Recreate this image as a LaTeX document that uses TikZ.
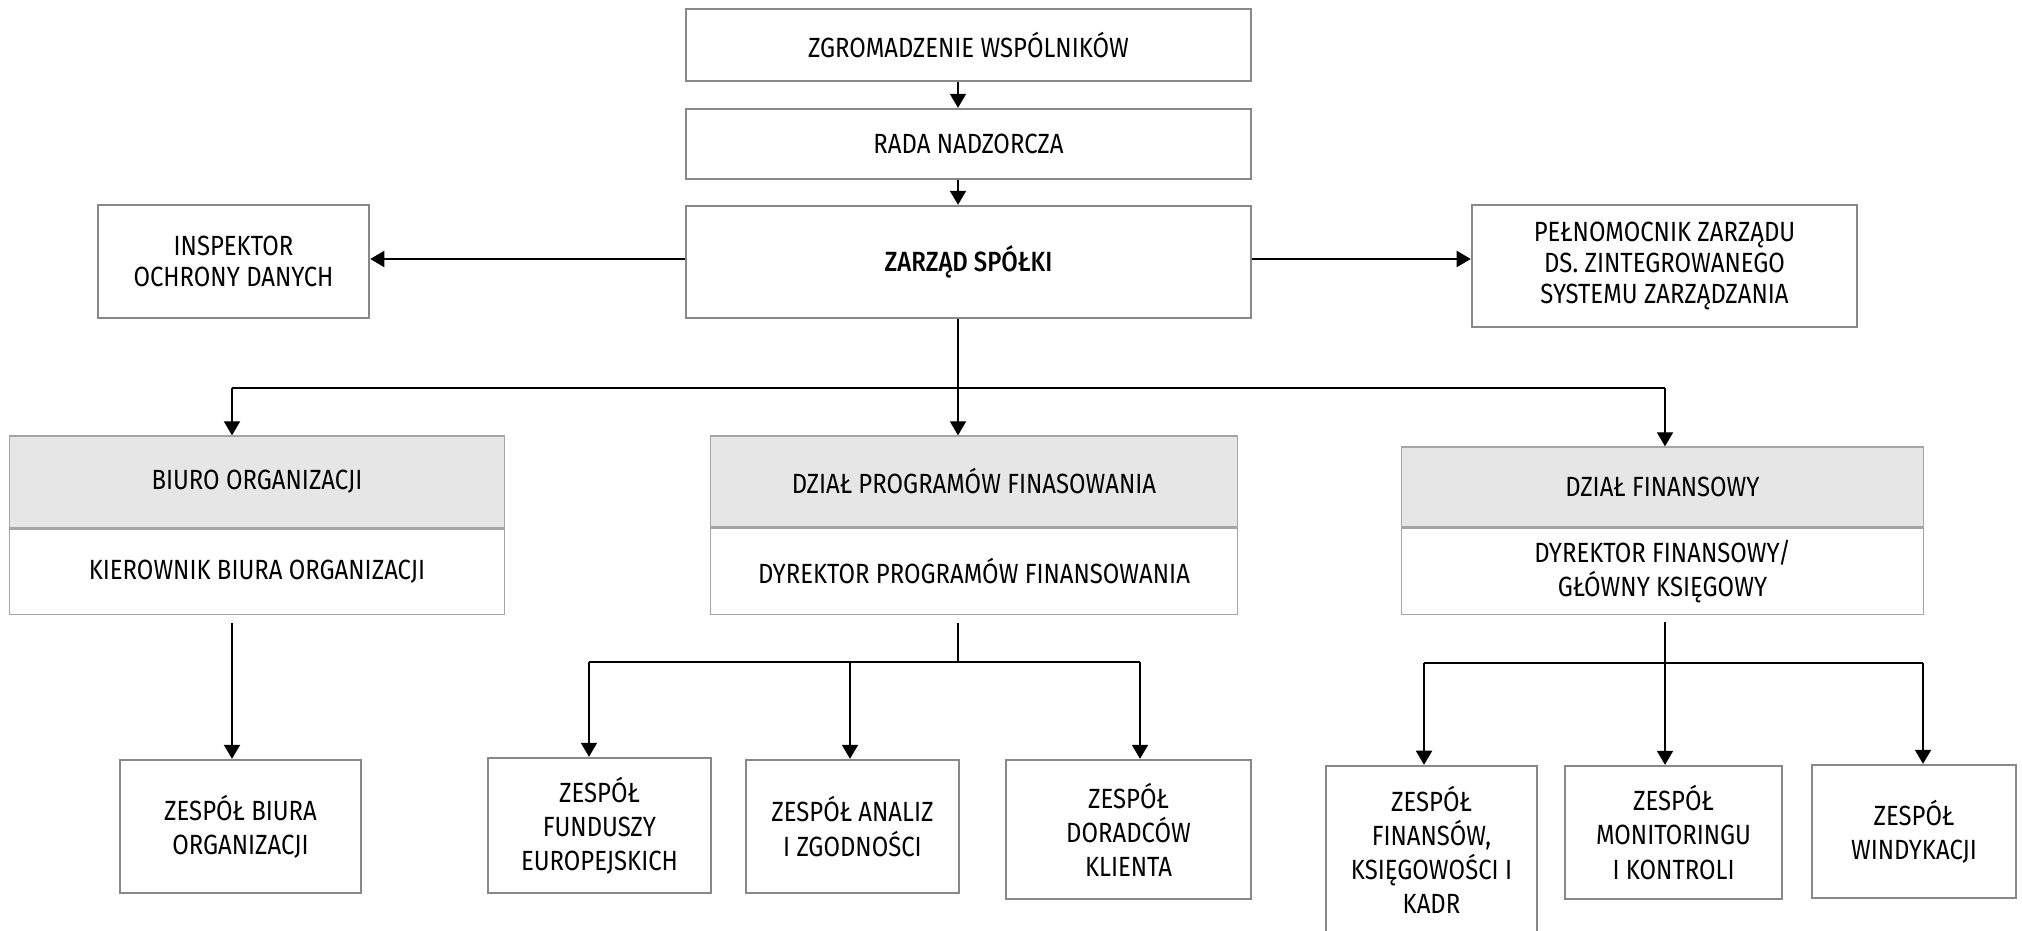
\documentclass[tikz,border=0pt]{standalone}
\usepackage{fontspec}
\setmainfont{Fira Sans}[FakeStretch=0.86]
\newfontfamily\polgruby{Fira Sans Medium}[FakeStretch=0.86]
\usetikzlibrary{arrows.meta}

\definecolor{ramka}{RGB}{136,136,136}
\definecolor{ramkaj}{RGB}{165,165,165}
\definecolor{naglowek}{RGB}{230,230,230}

\tikzset{
  blok/.style={draw=ramka, line width=0.65pt, align=center, inner sep=0pt,
    font=\fontsize{7.9}{9.7}\selectfont},
  blokg/.style={blok, font=\fontsize{7.9}{8.8}\selectfont},
  dzial/.style={draw=ramkaj, line width=0.35pt, fill=naglowek, align=center, inner sep=0pt,
    font=\fontsize{7.9}{9.7}\selectfont},
  kier/.style={dzial, fill=white},
  strz/.style={line width=0.4pt, -{Triangle[width=4.6pt,length=4pt]}},
  linia/.style={line width=0.4pt}
}

\begin{document}
\begin{tikzpicture}[x=0.01cm, y=-0.01cm]
            \useasboundingbox (0,0) rectangle (2022,931);
            % gora
            \node[blokg, minimum width=5.65cm, minimum height=0.72cm] (zgrom) at (968.5,45) {ZGROMADZENIE WSPÓLNIKÓW};
            \node[blokg, minimum width=5.65cm, minimum height=0.70cm] (rada) at (968.5,144) {RADA NADZORCZA};
            \node[blokg, minimum width=5.65cm, minimum height=1.12cm] (zarzad) at (968.5,262) {\polgruby ZARZĄD SPÓŁKI};
            \node[blokg, minimum width=2.71cm, minimum height=1.13cm] (insp) at (233.5,261.5) {INSPEKTOR\\OCHRONY DANYCH};
            \node[blokg, minimum width=3.85cm, minimum height=1.22cm] (pelnom) at (1664.5,266) {PEŁNOMOCNIK ZARZĄDU\\DS. ZINTEGROWANEGO\\SYSTEMU ZARZĄDZANIA};
            \coordinate (pion) at (958,388);
            \coordinate (busL) at (232,388);
            \coordinate (busR) at (1665,388);
            \draw[strz] (zgrom.south -| pion) -- (rada.north -| pion);
            \draw[strz] (rada.south -| pion) -- (zarzad.north -| pion);
            \draw[strz] (zarzad.west |- 0,259) -- (insp.east |- 0,259);
            \draw[strz] (zarzad.east |- 0,259) -- (pelnom.west |- 0,259);
            % dzialy
            \node[dzial, minimum width=4.94cm, minimum height=0.92cm] (biuro) at (257,482) {BIURO ORGANIZACJI};
            \node[kier, minimum width=4.94cm, minimum height=0.85cm, anchor=north] (biuroK) at (biuro.south) {KIEROWNIK BIURA ORGANIZACJI};
            \node[dzial, minimum width=5.26cm, minimum height=0.91cm] (prog) at (974,481.5) {DZIAŁ PROGRAMÓW FINASOWANIA};
            \node[kier, minimum width=5.26cm, minimum height=0.86cm, anchor=north] (progK) at (prog.south) {DYREKTOR PROGRAMÓW FINANSOWANIA};
            \node[dzial, minimum width=5.21cm, minimum height=0.80cm] (fin) at (1662.5,487) {DZIAŁ FINANSOWY};
            \node[kier, minimum width=5.21cm, minimum height=0.86cm, anchor=north] (finK) at (fin.south) {DYREKTOR FINANSOWY/\\GŁÓWNY KSIĘGOWY};
            \draw[linia] (zarzad.south -| pion) -- (pion);
            \draw[linia] (busL) -- (busR);
            \draw[strz] (busL) -- (busL |- biuro.north);
            \draw[strz] (pion) -- (pion |- prog.north);
            \draw[strz] (busR) -- (busR |- fin.north);
            % zespoly
            \node[blok, minimum width=2.41cm, minimum height=1.33cm] (zbiura) at (240.5,826.5) {ZESPÓŁ BIURA\\ORGANIZACJI};
            \node[blok, minimum width=2.23cm, minimum height=1.35cm] (fundusze) at (599.5,825.5) {ZESPÓŁ\\FUNDUSZY\\EUROPEJSKICH};
            \node[blok, minimum width=2.13cm, minimum height=1.33cm] (analiz) at (852.5,826.5) {ZESPÓŁ ANALIZ\\I ZGODNOŚCI};
            \node[blok, minimum width=2.45cm, minimum height=1.39cm] (doradcy) at (1128.5,829.5) {ZESPÓŁ\\DORADCÓW\\KLIENTA};
            \node[blok, minimum width=2.11cm, minimum height=1.68cm] (finanse) at (1431.5,850) {ZESPÓŁ\\FINANSÓW,\\KSIĘGOWOŚCI I\\KADR};
            \node[blok, minimum width=2.17cm, minimum height=1.33cm] (monit) at (1673.5,832.5) {ZESPÓŁ\\MONITORINGU\\I KONTROLI};
            \node[blok, minimum width=2.04cm, minimum height=1.33cm] (windyk) at (1914,831.5) {ZESPÓŁ\\WINDYKACJI};
            \coordinate (p1) at (589,662);
            \coordinate (p2) at (850,662);
            \coordinate (p3) at (1140,662);
            \coordinate (f1) at (1424,663);
            \coordinate (f3) at (1923,663);
            \draw[strz] (biuroK.south -| busL) ++(0,8) -- (busL |- zbiura.north);
            \draw[linia] (progK.south -| pion) ++(0,8) -- (pion |- p1);
            \draw[linia] (p1) -- (p3);
            \draw[strz] (p1) -- (p1 |- fundusze.north);
            \draw[strz] (p2) -- (p2 |- analiz.north);
            \draw[strz] (p3) -- (p3 |- doradcy.north);
            \draw[linia] (finK.south -| busR) ++(0,7) -- (busR |- f1);
            \draw[linia] (f1) -- (f3);
            \draw[strz] (f1) -- (f1 |- finanse.north);
            \draw[strz] (busR |- f1) -- (busR |- monit.north);
            \draw[strz] (f3) -- (f3 |- windyk.north);
        \end{tikzpicture}
\end{document}
